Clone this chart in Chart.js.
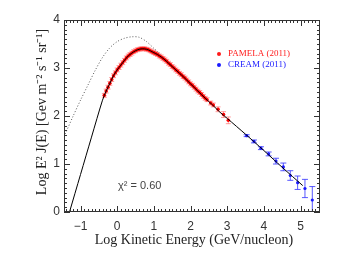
<!DOCTYPE html>
<html>
<head>
<meta charset="utf-8">
<script src="https://cdn.jsdelivr.net/npm/chart.js@4.4.1/dist/chart.umd.min.js"></script>
<style>
  html, body { margin: 0; padding: 0; background: #fff; overflow: hidden; }
  canvas { display: block; }
</style>
</head>
<body>
<canvas id="chart" width="338" height="254"></canvas>
<script>
// -------------------------
// Data
// -------------------------
const modelX = [-1.30, -1.00, -0.70, -0.40, -0.30, -0.20, -0.10, 0.00, 0.10, 0.20, 0.30, 0.40, 0.50, 0.60, 0.70, 0.80, 0.90, 1.00, 1.10, 1.20, 1.30, 1.40, 1.50, 1.60, 1.70, 1.80, 2.00, 2.20, 2.40, 2.60, 2.80, 3.00, 3.50, 4.00, 4.50, 5.06];
const modelY = [0.00, 0.78, 1.56, 2.33, 2.52, 2.68, 2.84, 2.96, 3.06, 3.16, 3.25, 3.31, 3.36, 3.39, 3.40, 3.39, 3.36, 3.32, 3.28, 3.23, 3.17, 3.10, 3.03, 2.96, 2.89, 2.82, 2.67, 2.52, 2.37, 2.23, 2.08, 1.95, 1.62, 1.28, 0.93, 0.55];

const lisX = [-1.45, -1.20, -1.00, -0.80, -0.60, -0.40, -0.20, 0.00, 0.20, 0.40, 0.60, 0.80, 1.00, 1.10, 1.20, 1.30];
const lisY = [1.57, 2.00, 2.33, 2.64, 2.95, 3.22, 3.42, 3.55, 3.62, 3.65, 3.64, 3.55, 3.41, 3.34, 3.26, 3.18];

const pamelaX = [-0.35, -0.30, -0.25, -0.20, -0.15, -0.10, -0.05, 0.00, 0.05, 0.10, 0.15, 0.20, 0.25, 0.30, 0.35, 0.40, 0.45, 0.50, 0.55, 0.60, 0.65, 0.70, 0.75, 0.80, 0.85, 0.90, 0.95, 1.00, 1.05, 1.10, 1.15, 1.20, 1.25, 1.30, 1.35, 1.40, 1.45, 1.50, 1.55, 1.60, 1.65, 1.70, 1.75, 1.80, 1.85, 1.90, 1.95, 2.00, 2.05, 2.10, 2.15, 2.20, 2.25, 2.30, 2.35, 2.40, 2.45, 2.55, 2.62, 2.75, 2.90, 3.03];
const pamelaY = [2.43, 2.52, 2.60, 2.68, 2.76, 2.84, 2.90, 2.96, 3.01, 3.06, 3.11, 3.16, 3.21, 3.25, 3.28, 3.31, 3.34, 3.36, 3.38, 3.39, 3.40, 3.40, 3.40, 3.39, 3.38, 3.36, 3.34, 3.32, 3.30, 3.28, 3.25, 3.23, 3.20, 3.17, 3.14, 3.10, 3.07, 3.03, 3.00, 2.96, 2.93, 2.89, 2.86, 2.82, 2.79, 2.75, 2.71, 2.67, 2.64, 2.60, 2.56, 2.52, 2.49, 2.45, 2.41, 2.37, 2.34, 2.27, 2.23, 2.14, 2.03, 1.91];
const pamelaErr = [0.04, 0.04, 0.04, 0.04, 0.04, 0.04, 0.04, 0.04, 0.04, 0.04, 0.04, 0.04, 0.04, 0.04, 0.04, 0.04, 0.04, 0.04, 0.04, 0.04, 0.04, 0.04, 0.04, 0.04, 0.04, 0.04, 0.04, 0.04, 0.04, 0.04, 0.04, 0.04, 0.04, 0.04, 0.04, 0.04, 0.04, 0.04, 0.04, 0.04, 0.04, 0.04, 0.04, 0.04, 0.04, 0.04, 0.04, 0.04, 0.04, 0.04, 0.04, 0.04, 0.04, 0.04, 0.04, 0.04, 0.04, 0.04, 0.04, 0.05, 0.06, 0.07];

const creamX = [3.53, 3.73, 3.92, 4.13, 4.33, 4.53, 4.72, 4.92, 5.12, 5.32];
const creamY = [1.59, 1.47, 1.33, 1.21, 1.06, 0.94, 0.76, 0.61, 0.49, 0.25];
const creamErr = [0.02, 0.03, 0.03, 0.04, 0.06, 0.08, 0.10, 0.14, 0.19, 0.28];

const xTicks = [-1, 0, 1, 2, 3, 4, 5];
const yTicks = [0, 1, 2, 3, 4];

// -------------------------
// Helpers
// -------------------------
const pts = (xs, ys) => xs.map((x, i) => ({ x, y: ys[i] }));
const fmtNum = v => (v < 0 ? "\u2212" + Math.abs(v) : String(v));

// error bars, drawn under the points
const errorBars = {
  id: "errorBars",
  beforeDatasetsDraw(chart) {
    const { ctx, chartArea: a, scales: { x, y } } = chart;
    ctx.save();
    ctx.beginPath();
    ctx.rect(a.left, a.top, a.right - a.left, a.bottom - a.top);
    ctx.clip();
    const bars = (xs, ys, es, color, cap, lw) => {
      ctx.strokeStyle = color;
      ctx.lineWidth = lw;
      xs.forEach((xv, i) => {
        const px = x.getPixelForValue(xv);
        const p1 = y.getPixelForValue(ys[i] - es[i]);
        const p2 = y.getPixelForValue(ys[i] + es[i]);
        ctx.beginPath();
        ctx.moveTo(px, p1); ctx.lineTo(px, p2);
        ctx.moveTo(px - cap, p1); ctx.lineTo(px + cap, p1);
        ctx.moveTo(px - cap, p2); ctx.lineTo(px + cap, p2);
        ctx.stroke();
      });
    };
    bars(pamelaX, pamelaY, pamelaErr, "rgba(255,120,120,0.75)", 2.5, 1);
    bars(creamX, creamY, creamErr, "rgba(60,60,255,0.85)", 3, 1);
    ctx.restore();
  }
};

// frame with inward ticks on all four sides, titles, legend and chi2 label
const frame = {
  id: "frame",
  afterDraw(chart) {
    const { ctx, chartArea: a, scales: { x, y } } = chart;
    ctx.save();
    ctx.strokeStyle = "#333";
    ctx.lineWidth = 1;
    ctx.strokeRect(a.left + 0.5, a.top + 0.5, a.right - a.left - 1, a.bottom - a.top - 1);

    ctx.beginPath();
    for (let k = Math.ceil(x.min * 10); k <= Math.floor(x.max * 10); k++) {
      const px = Math.round(x.getPixelForValue(k / 10)) + 0.5;
      const len = k % 10 === 0 ? 6 : 3;
      ctx.moveTo(px, a.bottom); ctx.lineTo(px, a.bottom - len);
      ctx.moveTo(px, a.top); ctx.lineTo(px, a.top + len);
    }
    for (let k = Math.ceil(y.min * 10); k <= Math.floor(y.max * 10); k++) {
      const py = Math.round(y.getPixelForValue(k / 10)) + 0.5;
      const len = k % 10 === 0 ? 6 : 3;
      ctx.moveTo(a.left, py); ctx.lineTo(a.left + len, py);
      ctx.moveTo(a.right, py); ctx.lineTo(a.right - len, py);
    }
    ctx.stroke();

    // axis titles
    ctx.fillStyle = "#222";
    ctx.font = "14px 'Liberation Serif', serif";
    ctx.textAlign = "center";
    ctx.textBaseline = "middle";
    ctx.fillText("Log Kinetic Energy (GeV/nucleon)", 194, 240);
    ctx.save();
    ctx.translate(42, 112);
    ctx.rotate(-Math.PI / 2);
    ctx.fillText("Log E\u00B2 J(E) [Gev m\u207B\u00B2 s\u207B\u00B9 sr\u207B\u00B9]", 0, 0);
    ctx.restore();

    // legend
    ctx.font = "9px 'Liberation Serif', serif";
    ctx.textAlign = "left";
    const legend = [["PAMELA (2011)", "#ff1a1a", 54], ["CREAM (2011)", "#1a1aff", 65]];
    legend.forEach(([label, color, ly]) => {
      ctx.fillStyle = color;
      ctx.beginPath();
      ctx.arc(219, ly, 2, 0, Math.PI * 2);
      ctx.fill();
      ctx.fillText(label, 228, ly);
    });

    // chi2
    ctx.fillStyle = "#444";
    ctx.font = "11px 'Liberation Sans', sans-serif";
    ctx.fillText("\u03C7\u00B2 = 0.60", 118, 186);
    ctx.restore();
  }
};

// -------------------------
// Chart
// -------------------------
new Chart(document.getElementById("chart"), {
  type: "scatter",
  data: {
    datasets: [
      {
        label: "model",
        data: pts(modelX, modelY),
        showLine: true,
        borderColor: "#000",
        borderWidth: 1,
        pointRadius: 0,
        tension: 0.3
      },
      {
        label: "PAMELA (2011)",
        data: pts(pamelaX, pamelaY),
        backgroundColor: "#ff0000",
        borderWidth: 0,
        pointRadius: 1.8
      },
      {
        label: "CREAM (2011)",
        data: pts(creamX, creamY),
        backgroundColor: "#1a1aff",
        borderWidth: 0,
        pointRadius: 1.6
      },
      {
        label: "LIS",
        data: pts(lisX, lisY),
        showLine: true,
        borderColor: "#555",
        borderWidth: 1,
        borderDash: [1, 2],
        pointRadius: 0,
        tension: 0.3
      }
    ]
  },
  options: {
    responsive: false,
    devicePixelRatio: 1,
    animation: false,
    layout: { padding: { top: 20, right: 18, left: 0, bottom: 0 } },
    plugins: { legend: { display: false }, tooltip: { enabled: false } },
    scales: {
      x: {
        type: "linear",
        min: -1.45,
        max: 5.53,
        afterFit: s => { s.height = 42; },
        afterBuildTicks: s => { s.ticks = xTicks.map(v => ({ value: v })); },
        grid: { display: false, drawTicks: false },
        border: { display: false },
        ticks: {
          padding: 7,
          color: "#333",
          font: { family: "'Liberation Sans', sans-serif", size: 12 },
          callback: v => fmtNum(v)
        }
      },
      y: {
        type: "linear",
        min: 0,
        max: 4,
        afterFit: s => { s.width = 64; },
        afterBuildTicks: s => { s.ticks = yTicks.map(v => ({ value: v })); },
        grid: { display: false, drawTicks: false },
        border: { display: false },
        ticks: {
          padding: 4,
          color: "#333",
          font: { family: "'Liberation Sans', sans-serif", size: 12 },
          callback: v => fmtNum(v)
        }
      }
    }
  },
  plugins: [errorBars, frame]
});
</script>
</body>
</html>
